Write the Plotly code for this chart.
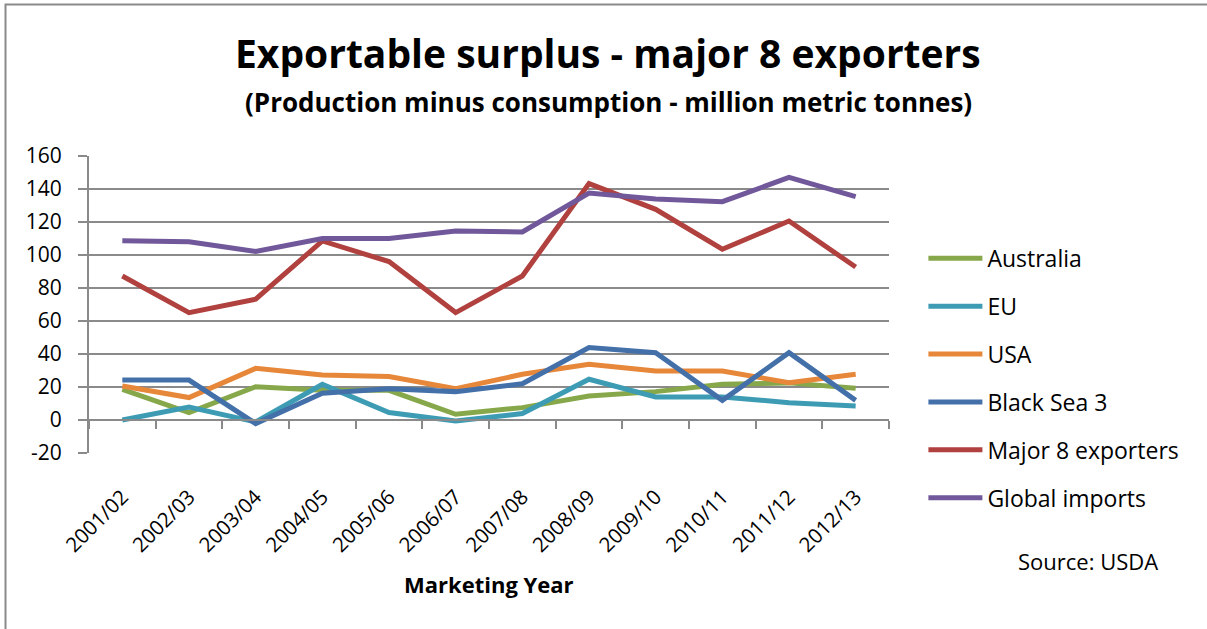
import plotly.graph_objects as go

categories = ["2001/02", "2002/03", "2003/04", "2004/05", "2005/06", "2006/07",
              "2007/08", "2008/09", "2009/10", "2010/11", "2011/12", "2012/13"]
australia = [18.6, 4.5, 20.2, 18.0, 18.0, 3.5, 7.5, 14.5, 17.2, 21.6, 22.5, 19.2]
eu = [0.0, 7.9, -1.2, 21.6, 4.5, -0.6, 3.9, 24.7, 14.0, 14.0, 10.5, 8.5]
usa = [20.6, 13.6, 31.3, 27.3, 26.3, 19.0, 27.7, 33.8, 29.7, 29.7, 22.6, 27.7]
black_sea = [24.2, 24.2, -2.2, 16.2, 19.0, 17.2, 22.0, 43.9, 40.8, 11.9, 40.8, 11.9]
major8 = [87.3, 65.1, 73.2, 108.5, 96.0, 65.1, 87.3, 143.3, 127.7, 103.5, 120.6, 92.7]
global_imports = [108.6, 108.0, 102.2, 110.0, 110.0, 114.5, 114.0, 137.5, 134.0, 132.3, 147.0, 135.4]

y_tick_values = [-20, 0, 20, 40, 60, 80, 100, 120, 140, 160]
y_tick_labels = ["-20", "0", "20", "40", "60", "80", "100", "120", "140", "160"]

series_names = ["Australia", "EU", "USA", "Black Sea 3", "Major 8 exporters", "Global imports"]
series_values = [australia, eu, usa, black_sea, major8, global_imports]
series_colors = ["#87A84A", "#3D9CB4", "#E6873A", "#4470AA", "#B0413E", "#70589A"]

FONT = "Open Sans"
GRID = "#8A8A8A"

fig = go.Figure()
for name, vals, col in zip(series_names, series_values, series_colors):
    fig.add_trace(go.Scatter(
        x=categories, y=vals, name=name, mode="lines",
        line=dict(color=col, width=5),
        legendgroup=name,
    ))

# invisible trace to activate the secondary (zero-line) x axis
fig.add_trace(go.Scatter(x=[0, 12], y=[0, 0], xaxis="x2", mode="lines",
                         line=dict(width=0), showlegend=False, hoverinfo="skip"))

fig.update_layout(
    width=1207, height=629,
    margin=dict(l=89, r=318, t=156, b=176),
    paper_bgcolor="white", plot_bgcolor="white",
    font=dict(family=FONT, color="black", size=20),
    showlegend=True,
    legend=dict(
        x=1.043, y=0.728, xanchor="left", yanchor="top",
        font=dict(family=FONT, size=23, color="black"),
        tracegroupgap=15, traceorder="grouped", itemwidth=54,
        bgcolor="rgba(0,0,0,0)",
    ),
    xaxis=dict(
        type="category", categoryorder="array", categoryarray=categories,
        range=[-0.5, 11.5], showgrid=False, showline=False, zeroline=False,
        ticks="", tickangle=-45, tickfont=dict(family=FONT, size=20.5),
        ticklabelstandoff=27,
    ),
    xaxis2=dict(
        overlaying="x", anchor="free", position=20 / 180,
        range=[0, 12], tick0=0, dtick=1, showticklabels=False,
        showgrid=False, zeroline=False, showline=True, linecolor=GRID,
        linewidth=2, ticks="outside", ticklen=8, tickwidth=2, tickcolor=GRID,
    ),
    yaxis=dict(
        range=[-20, 160], tickmode="array", tickvals=y_tick_values, ticktext=y_tick_labels,
        showgrid=True, gridcolor=GRID,
        gridwidth=2, zeroline=False, showline=True, linecolor=GRID, linewidth=2,
        ticks="outside", ticklen=9, tickwidth=2, tickcolor=GRID,
        tickfont=dict(family=FONT, size=21), ticklabelstandoff=12,
    ),
    annotations=[
        dict(text="<b>Exportable surplus - major 8 exporters</b>", xref="paper", yref="paper",
             x=0.649, y=1.347, xanchor="center", yanchor="middle", showarrow=False,
             font=dict(family=FONT, size=39, color="black")),
        dict(text="<b>(Production minus consumption - million metric tonnes)</b>", xref="paper",
             yref="paper", x=0.649, y=1.182, xanchor="center", yanchor="middle", showarrow=False,
             font=dict(family=FONT, size=26, color="black")),
        dict(text="<b>Marketing Year</b>", xref="paper", yref="paper", x=0.5, y=-0.441,
             xanchor="center", yanchor="middle", showarrow=False,
             font=dict(family=FONT, size=22, color="black")),
        dict(text="Source: USDA", xref="paper", yref="paper", x=1.249, y=-0.364,
             xanchor="center", yanchor="middle", showarrow=False,
             font=dict(family=FONT, size=22, color="black")),
    ],
    shapes=[
        dict(type="rect", xref="paper", yref="paper",
             x0=(5.5 - 89) / 800, x1=(1215 - 89) / 800,
             y0=(453 - 640) / 297, y1=(453 - 4.5) / 297,
             line=dict(color="#8A8A8A", width=2), fillcolor="rgba(0,0,0,0)", layer="below"),
    ],
)

fig.write_html("out.html", config={"displayModeBar": False},
               post_script="document.body.style.margin='0';")
